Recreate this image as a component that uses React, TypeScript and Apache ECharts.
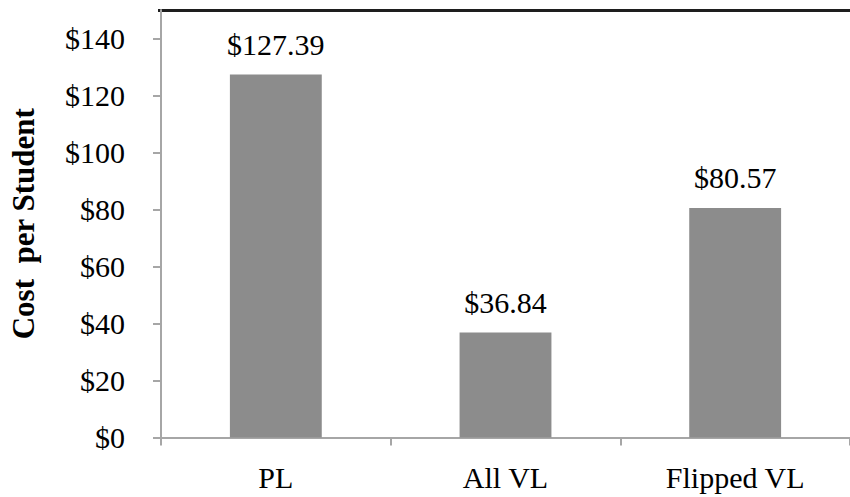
import React, { useEffect, useRef } from "react";
import * as echarts from "echarts";

const categories = ["PL", "All VL", "Flipped VL"];
const costPerStudent = [127.39, 36.84, 80.57];
const yTickValues = [0, 20, 40, 60, 80, 100, 120, 140];

const FONT = "Liberation Serif";

export default function App() {
  const ref = useRef<HTMLDivElement>(null);
  useEffect(() => {
    if (!ref.current) return;
    const chart = echarts.init(ref.current, undefined, { renderer: "svg" });
    chart.setOption({
      animation: false,
      backgroundColor: "#ffffff",
      grid: { left: 159, right: -5, top: 10, bottom: 59.5, containLabel: false },
      xAxis: {
        type: "category",
        data: categories,
        axisLine: { lineStyle: { color: "#a6a6a6", width: 2 } },
        axisTick: { show: true, length: 8, lineStyle: { color: "#a6a6a6", width: 2 } },
        axisLabel: { fontFamily: FONT, fontSize: 30, color: "#000", margin: 25 },
      },
      yAxis: {
        type: "value",
        min: 0,
        max: 150,
        name: "Cost  per Student",
        nameLocation: "middle",
        nameGap: 122,
        nameTextStyle: { fontFamily: FONT, fontSize: 31, fontWeight: "bold", color: "#000" },
        axisLine: { show: true, lineStyle: { color: "#a6a6a6", width: 2 } },
        axisTick: {
          show: true,
          length: 8,
          customValues: yTickValues,
          lineStyle: { color: "#a6a6a6", width: 2 },
        },
        axisLabel: {
          customValues: yTickValues,
          fontFamily: FONT,
          fontSize: 30,
          color: "#000",
          margin: 36,
          formatter: (v: number) => "$" + v,
        },
        splitLine: { show: false },
      },
      series: [
        {
          type: "bar",
          data: costPerStudent,
          barWidth: "40%",
          itemStyle: { color: "#8c8c8c" },
          label: {
            show: true,
            position: "top",
            distance: 15,
            fontFamily: FONT,
            fontSize: 30,
            color: "#000",
            formatter: (p: any) => "$" + p.value.toFixed(2),
          },
        },
      ],
      graphic: [
        {
          type: "line",
          shape: { x1: 158, y1: 10.5, x2: 850, y2: 10.5 },
          style: { stroke: "#1e1e1e", lineWidth: 3 },
        },
      ],
    });
    return () => chart.dispose();
  }, []);
  return (
    <div
      ref={ref}
      style={{ position: "fixed", left: 0, top: 0, width: 850, height: 497 }}
    />
  );
}
